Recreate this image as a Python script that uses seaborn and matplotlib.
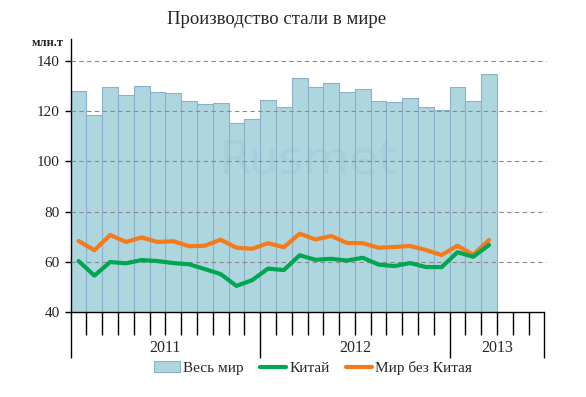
import matplotlib
matplotlib.use("Agg")
import matplotlib.pyplot as plt
import seaborn as sns
import numpy as np
import pandas as pd
from matplotlib.patches import Patch
from matplotlib.lines import Line2D

# monthly steel production, mln t (Jan 2011 - Mar 2013)
months = [f"{y}-{m:02d}" for y in (2011, 2012, 2013) for m in range(1, 13)][:30]
world = [128.0, 118.5, 129.6, 126.5, 130.0, 127.6, 127.3, 124.1, 123.0, 123.3, 115.3, 116.9,
         124.5, 121.7, 133.2, 129.8, 131.2, 127.6, 128.8, 124.1, 123.7, 125.3, 121.7, 120.5,
         129.8, 124.1, 134.8]
china = [60.3, 54.5, 59.9, 59.4, 60.7, 60.3, 59.5, 59.0, 57.1, 55.1, 50.4, 52.7,
         57.3, 56.7, 62.6, 60.8, 61.2, 60.5, 61.6, 58.9, 58.3, 59.5, 57.9, 57.9,
         63.8, 62.0, 66.7]
ex_china = [68.3, 64.6, 70.7, 67.9, 69.7, 67.9, 68.2, 66.2, 66.4, 68.8, 65.6, 65.2,
            67.4, 65.8, 71.2, 68.9, 70.3, 67.5, 67.4, 65.6, 65.9, 66.3, 64.7, 62.7,
            66.4, 62.8, 68.7]
years = ["2011", "2012", "2013"]
year_bounds = [-0.5, 11.5, 23.5, 29.5]

bar_color = "#aed6df"
green = "#00a650"
orange = "#f57a1c"
serif = ["Liberation Serif", "DejaVu Serif"]

sns.set_theme(style="white")
plt.rcParams["font.family"] = serif

df = pd.DataFrame({"month": months[:len(world)], "world": world})

fig = plt.figure(figsize=(5.86, 3.97), dpi=100)
ax = fig.add_axes([70.7 / 586, 1 - 312 / 397, 473.6 / 586, 273 / 397])

sns.barplot(data=df, x="month", y="world", order=months, color=bar_color,
            width=1.0, edgecolor="#8db1cc", linewidth=0.8, saturation=1, ax=ax)
ax.set_ylim(40, 40 + 273 / 2.51)
ax.set_xlim(-0.5, 29.5)

x_pos = np.arange(len(world))
sns.lineplot(x=x_pos, y=ex_china, color=orange, linewidth=3.0, ax=ax, zorder=4)
sns.lineplot(x=x_pos, y=china, color=green, linewidth=3.0, ax=ax, zorder=4)

# dashed grid over the bars
for v in range(60, 141, 20):
    ax.plot([-0.5, 29.6], [v, v], color="#8a8a8a", linestyle=(0, (4, 3)),
            linewidth=0.8, zorder=3, clip_on=False)

ax.text(14.5, 100, "Rusmet", fontsize=34, color="#6f9fae", alpha=0.12,
        ha="center", va="center", family=["DejaVu Sans"], zorder=2)

for s in ("top", "right"):
    ax.spines[s].set_visible(False)
for s in ("left", "bottom"):
    ax.spines[s].set_color("black")
    ax.spines[s].set_linewidth(1.0)

ax.set_yticks(range(40, 141, 20))
ax.set_yticklabels([str(v) for v in range(40, 141, 20)], fontsize=11)
ax.tick_params(axis="y", length=4, width=1, color="black", direction="out", pad=4, left=True)

ax.set_xticks(year_bounds)
ax.set_xticklabels([])
ax.set_xticks([b for b in np.arange(-0.5, 29.6, 1.0) if b not in year_bounds], minor=True)
ax.tick_params(axis="x", which="major", length=33, width=1, color="black", bottom=True)
ax.tick_params(axis="x", which="minor", length=16.5, width=1, color="black", bottom=True)
ax.set_xlabel("")
ax.set_ylabel("")

for i, yr in enumerate(years):
    ax.text((year_bounds[i] + year_bounds[i + 1]) / 2, 40 - 36 / 2.51, yr,
            ha="center", va="center", fontsize=11.5)

fig.text(48 / 586, 1 - 43 / 397, "млн.т", ha="center", va="center",
         fontsize=9, fontweight="bold")
fig.text(277 / 586, 1 - 19 / 397, "Производство стали в мире", ha="center",
         va="center", fontsize=13.5)

handles = [Patch(facecolor=bar_color, edgecolor="#8db1cc", linewidth=0.8),
           Line2D([], [], color=green, linewidth=3),
           Line2D([], [], color=orange, linewidth=3)]
fig.legend(handles, ["Весь мир", "Китай", "Мир без Китая"], loc="center",
           bbox_to_anchor=(313 / 586, 1 - 368 / 397), ncol=3, frameon=False,
           fontsize=11, handlelength=1.7, handletextpad=0.2, columnspacing=1.1,
           borderpad=0)

fig.savefig("out.png", dpi=100)
